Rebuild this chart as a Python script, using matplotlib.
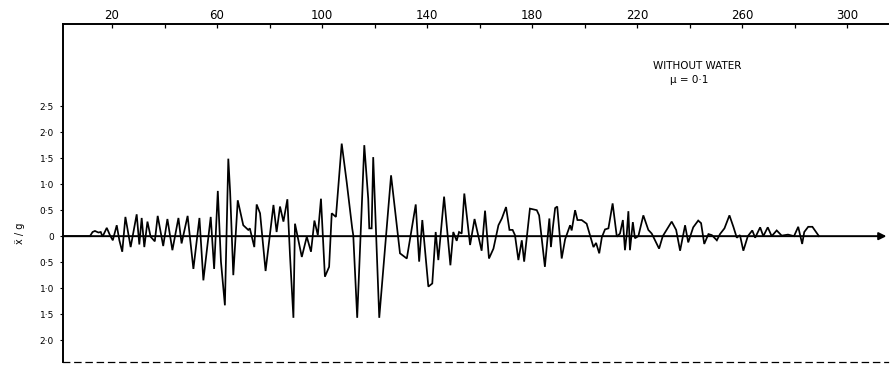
import matplotlib
matplotlib.use("Agg")
import matplotlib.pyplot as plt

# time (s-scale units on top axis) and normalised acceleration
time = [1.5, 11.6, 12.6, 13.5, 14.8, 15.7, 16.4, 18.0, 19.2, 20.3, 21.8, 22.8, 23.9,
        25.1, 27.1, 29.4, 30.4, 31.3, 32.3, 33.5, 34.7, 36.3, 37.4, 39.5, 41.1,
        43.0, 45.3, 46.5, 48.8, 51.0, 53.3, 54.8, 57.6, 58.9, 60.3, 61.5, 63.0,
        64.3, 65.0, 66.2, 67.9, 70.0, 71.9, 72.5, 74.2, 75.1, 76.4, 78.5,
        81.5, 82.7, 84.0, 85.3, 86.8, 87.8, 89.1, 89.7, 92.3, 94.2, 95.8, 97.1,
        98.4, 99.6, 101.1, 102.7, 103.7, 105.3, 107.5, 109.4, 111.5, 111.9,
        113.4, 116.1, 117.6, 118.0, 118.9, 119.5, 121.8, 126.3, 129.7, 132.3,
        135.7, 137.0, 138.2, 140.5, 142.0, 143.3, 144.3, 146.5, 148.9, 150.0,
        151.3, 152.2, 153.2, 154.2, 156.4, 158.1,
        160.8, 162.1, 163.6, 165.3, 167.2, 168.5, 170.1, 171.4, 172.6, 173.5,
        174.8, 176.1, 177.0, 179.2, 181.8, 182.7, 184.9, 186.6, 187.2, 187.9,
        188.8, 189.6, 191.3, 192.6, 194.5, 195.1, 196.4, 197.3, 198.9, 200.8,
        203.4, 204.4, 205.6, 206.6, 207.8, 209.1, 210.7, 212.3, 213.5, 214.6,
        215.4, 216.1, 216.7, 217.3, 218.4, 219.2, 220.5, 222.4, 224.3, 225.6,
        228.4, 229.8, 233.2, 234.9, 236.4,
        238.3, 239.5, 241.4, 243.3, 244.4, 245.6, 247.2, 248.5, 250.4, 251.6,
        253.3, 255.2, 256.7, 258.0, 259.2, 260.5, 262.2, 263.9, 265.0, 266.9,
        268.1, 269.8, 271.3, 273.2, 275.1, 277.5, 279.8, 281.4, 282.9, 283.7,
        285.2, 286.8, 288.2, 289.3]
accel = [0.0, 0.0, 0.08, 0.10, 0.07, 0.08, -0.01, 0.16, 0.02, -0.08, 0.21, -0.08, -0.30,
         0.37, -0.21, 0.42, -0.16, 0.35, -0.21, 0.28, -0.01, -0.10, 0.39, -0.19, 0.33,
         -0.27, 0.35, -0.14, 0.39, -0.63, 0.35, -0.85, 0.37, -0.63, 0.87, -0.49, -1.33,
         1.49, 0.85, -0.75, 0.69, 0.21, 0.12, 0.15, -0.21, 0.61, 0.44, -0.67,
         0.60, 0.08, 0.57, 0.28, 0.71, -0.37, -1.57, 0.24, -0.40, -0.01, -0.30, 0.30,
         0.02, 0.72, -0.78, -0.59, 0.44, 0.37, 1.78, 1.04, 0.15, 0.02,
         -1.57, 1.75, 0.72, 0.15, 0.15, 1.52, -1.57, 1.17, -0.33, -0.43,
         0.61, -0.49, 0.31, -0.97, -0.91, 0.08, -0.46, 0.76, -0.56, 0.08,
         -0.09, 0.08, 0.05, 0.82, -0.17, 0.33,
         -0.28, 0.49, -0.43, -0.24, 0.21, 0.34, 0.56, 0.12, 0.12, 0.02,
         -0.46, -0.08, -0.49, 0.53, 0.50, 0.40, -0.59, 0.34, -0.21, 0.15,
         0.54, 0.57, -0.43, -0.06, 0.21, 0.11, 0.50, 0.31, 0.31, 0.24,
         -0.21, -0.13, -0.33, -0.02, 0.13, 0.15, 0.63, -0.01, 0.05, 0.31,
         -0.27, 0.05, 0.48, -0.27, 0.27, -0.04, 0.0, 0.40, 0.12, 0.05,
         -0.24, 0.0, 0.28, 0.12, -0.28,
         0.21, -0.12, 0.17, 0.30, 0.25, -0.15, 0.04, 0.02, -0.08, 0.04,
         0.15, 0.40, 0.18, -0.03, 0.02, -0.28, 0.0, 0.11, -0.03, 0.17,
         0.0, 0.17, 0.0, 0.11, 0.01, 0.03, 0.0, 0.18, -0.15, 0.08,
         0.18, 0.18, 0.08, 0.0]

x_major = [20, 60, 100, 140, 180, 220, 260, 300]
x_minor = [40, 80, 120, 160, 200, 240, 280]
y_ticks = [2.5, 2.0, 1.5, 1.0, 0.5, 0.0, -0.5, -1.0, -1.5, -2.0]
y_labels = ["2·5", "2·0", "1·5", "1·0", "0·5", "0", "0·5", "1·0", "1·5", "2·0"]
note_lines = ["WITHOUT WATER", "μ = 0·1"]
y_label = "ẍ / g"

fig = plt.figure(figsize=(8.9, 3.67), dpi=100)
ax = fig.add_axes([63 / 890, 1 - 362 / 367, (888 - 63) / 890, (362 - 24) / 367])

ax.plot(time, accel, color="black", lw=1.25, solid_joinstyle="miter")
ax.annotate("", xy=(315.0, 0.0), xytext=(1.33, 0.0),
            arrowprops=dict(arrowstyle="-|>", color="black", lw=1.4,
                            mutation_scale=11, shrinkA=0, shrinkB=0))

ax.set_xlim(1.33, 315.6)
ax.set_ylim(-2.42, 4.08)

ax.xaxis.tick_top()
ax.set_xticks(x_major)
ax.set_xticklabels([str(v) for v in x_major], fontsize=8.5)
ax.set_xticks(x_minor, minor=True)
ax.tick_params(axis="x", which="both", direction="in", length=3, width=0.9, pad=1.5,
               top=True, bottom=False)

ax.set_yticks(y_ticks)
ax.set_yticklabels(y_labels, fontsize=6.5)
ax.tick_params(axis="y", direction="out", length=2.5, width=0.8, pad=4)

for side in ["left", "top"]:
    ax.spines[side].set_linewidth(1.4)
ax.spines["right"].set_visible(False)
ax.spines["bottom"].set_linewidth(0.9)
ax.spines["bottom"].set_linestyle((0, (5, 4)))

ax.text(242.9, 3.27, note_lines[0], fontsize=7.5, ha="center", va="center")
ax.text(232.6, 3.0, note_lines[1], fontsize=7.5, ha="left", va="center")

fig.text(20 / 890, 1 - 233 / 367, y_label, rotation=90, fontsize=7,
         ha="center", va="center")

fig.savefig("out.png", dpi=100)
